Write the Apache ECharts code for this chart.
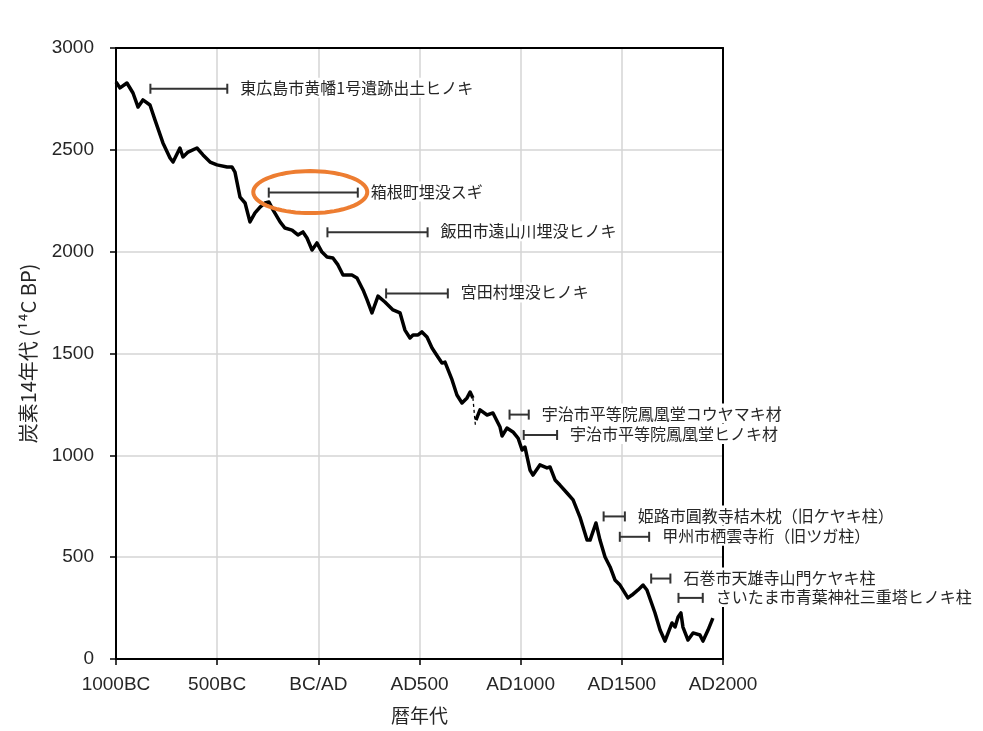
<!DOCTYPE html>
<html>
<head>
<meta charset="utf-8">
<script src="https://cdn.jsdelivr.net/npm/echarts@6/dist/echarts.min.js"></script>
<style>
html,body{margin:0;padding:0;background:#fff;}
#main{width:983px;height:731px;}
</style>
</head>
<body>
<div id="main"></div>
<script>
// ---- Calibration curve (calendar year, 14C BP) ----
var curveYears1 = [-1000,-980,-946,-916,-891,-867,-832,-807,-768,-733,-718,-684,-669,-644,-600,-570,-535,-501,-451,-427,-412,-387,-362,-338,-313,-288,-264,-244,-224,-189,-165,-130,-101,-76,-56,-31,-7,18,43,72,97,122,166,191,221,241,265,295,329,369,404,428,453,468,493,512,537,562,591,611,626,661,685,710,735,750,764];
var curveBP1    = [2833,2804,2828,2779,2710,2745,2720,2646,2534,2460,2440,2509,2465,2489,2509,2475,2440,2426,2416,2416,2391,2268,2239,2146,2190,2219,2239,2244,2205,2146,2116,2106,2082,2097,2067,2008,2043,1998,1974,1969,1935,1885,1885,1871,1812,1763,1699,1782,1753,1714,1699,1615,1576,1591,1591,1606,1581,1527,1483,1453,1458,1370,1296,1257,1282,1311,1282];
var curveYears2 = [779,799,834,863,898,908,932,962,987,1007,1021,1046,1061,1095,1130,1145,1170,1194,1229,1259,1293,1328,1343,1372,1392,1417,1442,1466,1491,1530,1550,1580,1605,1624,1664,1689,1713,1748,1763,1778,1792,1802,1827,1852,1886,1901,1926,1950];
var curveBP2    = [1173,1223,1198,1208,1139,1095,1134,1115,1085,1026,1041,928,903,953,938,943,879,854,815,781,697,584,584,668,584,501,452,388,363,300,314,339,363,339,226,142,88,177,157,206,226,157,93,128,118,88,142,201];
var connectorYears = [764,776];
var connectorBP    = [1282,1150];

// ---- Sample ranges ----
var sampleNames = [
  '東広島市黄幡1号遺跡出土ヒノキ',
  '箱根町埋没スギ',
  '飯田市遠山川埋没ヒノキ',
  '宮田村埋没ヒノキ',
  '宇治市平等院鳳凰堂コウヤマキ材',
  '宇治市平等院鳳凰堂ヒノキ材',
  '姫路市圓教寺桔木枕（旧ケヤキ柱）',
  '甲州市栖雲寺桁（旧ツガ柱）',
  '石巻市天雄寺山門ケヤキ柱',
  'さいたま市青葉神社三重塔ヒノキ柱'
];
var sampleStart = [-830,-245,45,335,945,1015,1410,1490,1645,1780];
var sampleEnd   = [-450,195,540,640,1040,1180,1515,1635,1740,1900];
var sampleBP    = [2800,2290,2095,1795,1200,1100,700,600,395,300];
var highlightIndex = 1;

// ---- Axis tick labels ----
var xTickLabels = ['1000BC','500BC','BC/AD','AD500','AD1000','AD1500','AD2000'];

var curveData = [];
curveYears1.forEach(function(x,i){ curveData.push([x, curveBP1[i]]); });
curveData.push([771, null]);
curveYears2.forEach(function(x,i){ curveData.push([x, curveBP2[i]]); });
var connectorData = connectorYears.map(function(x,i){ return [x, connectorBP[i]]; });
var sampleData = sampleNames.map(function(n,i){ return [sampleStart[i], sampleEnd[i], sampleBP[i]]; });

var chart = echarts.init(document.getElementById('main'));
var labelFont = 'Liberation Sans, Arial, sans-serif';
var cjkFont = '"Noto Sans CJK JP", sans-serif';

chart.setOption({
  backgroundColor: '#fff',
  animation: false,
  grid: {left: 116, right: 260, top: 48, bottom: 72},
  xAxis: [{
    type: 'value', min: -1000, max: 2000, interval: 500,
    name: '暦年代', nameLocation: 'middle', nameGap: 47,
    nameTextStyle: {fontFamily: cjkFont, fontSize: 19, color: '#262626'},
    axisLine: {show: true, onZero: false, lineStyle: {color: '#000', width: 2}},
    axisTick: {show: true, inside: false, length: 6, lineStyle: {color: '#000', width: 1.5}},
    axisLabel: {margin: 16, fontFamily: labelFont, fontSize: 19, color: '#262626',
      formatter: function(v){ return xTickLabels[Math.round((v + 1000) / 500)]; }},
    splitLine: {show: true, lineStyle: {color: '#d4d4d4', width: 1.5}}
  }, {
    type: 'value', position: 'top', min: -1000, max: 2000,
    axisLine: {show: true, onZero: false, lineStyle: {color: '#000', width: 2}},
    axisTick: {show: false}, axisLabel: {show: false}, splitLine: {show: false}
  }],
  yAxis: [{
    type: 'value', min: 0, max: 3000, interval: 500,
    name: '炭素14年代 (¹⁴C BP)', nameLocation: 'middle', nameGap: 78,
    nameTextStyle: {fontFamily: cjkFont, fontSize: 20, color: '#262626'},
    axisLine: {show: true, onZero: false, lineStyle: {color: '#000', width: 2}},
    axisTick: {show: true, inside: false, length: 6, lineStyle: {color: '#000', width: 1.5}},
    axisLabel: {margin: 22, fontFamily: labelFont, fontSize: 19, color: '#262626',
      formatter: function(v){ return String(v); }},
    splitLine: {show: true, lineStyle: {color: '#d4d4d4', width: 1.5}}
  }, {
    type: 'value', position: 'right', min: 0, max: 3000,
    axisLine: {show: true, onZero: false, lineStyle: {color: '#000', width: 2}},
    axisTick: {show: false}, axisLabel: {show: false}, splitLine: {show: false}
  }],
  series: [{
    type: 'line',
    xAxisIndex: 0, yAxisIndex: 0,
    data: curveData,
    showSymbol: false,
    connectNulls: false,
    lineStyle: {color: '#000', width: 3.5, join: 'round'},
    z: 3
  }, {
    type: 'line',
    xAxisIndex: 0, yAxisIndex: 0,
    data: connectorData,
    showSymbol: false,
    lineStyle: {color: '#000', width: 1.3, type: [3, 3]},
    z: 3
  }, {
    type: 'custom',
    xAxisIndex: 0, yAxisIndex: 0,
    data: sampleData,
    clip: false,
    z: 10,
    encode: {x: [0, 1], y: 2},
    renderItem: function(params, api){
      var bp = api.value(2);
      var p1 = api.coord([api.value(0), bp]);
      var p2 = api.coord([api.value(1), bp]);
      var h = 5;
      var stroke = {stroke: '#333', lineWidth: 2};
      var children = [
        {type: 'line', shape: {x1: p1[0], y1: p1[1], x2: p2[0], y2: p2[1]}, style: stroke},
        {type: 'line', shape: {x1: p1[0], y1: p1[1] - h, x2: p1[0], y2: p1[1] + h}, style: stroke},
        {type: 'line', shape: {x1: p2[0], y1: p2[1] - h, x2: p2[0], y2: p2[1] + h}, style: stroke},
        {type: 'text', x: p2[0] + 11, y: p2[1] - 1,
          style: {text: sampleNames[params.dataIndex], fill: '#262626', fontSize: 16,
            fontFamily: cjkFont, align: 'left', verticalAlign: 'middle',
            backgroundColor: '#fff', padding: [2, 2, 2, 2]}}
      ];
      if (params.dataIndex === highlightIndex) {
        var cx = (p1[0] + p2[0]) / 2 - 3, cy = p1[1] - 0.5, rx = 57, ry = 21;
        var pts = [];
        for (var k = 0; k <= 72; k++) {
          var t = k / 72 * Math.PI * 2;
          pts.push([cx + rx * Math.cos(t), cy + ry * Math.sin(t)]);
        }
        children.push({type: 'polygon', shape: {points: pts},
          style: {fill: 'none', stroke: '#ED7D31', lineWidth: 4}});
      }
      return {type: 'group', children: children};
    }
  }]
});
</script>
</body>
</html>
